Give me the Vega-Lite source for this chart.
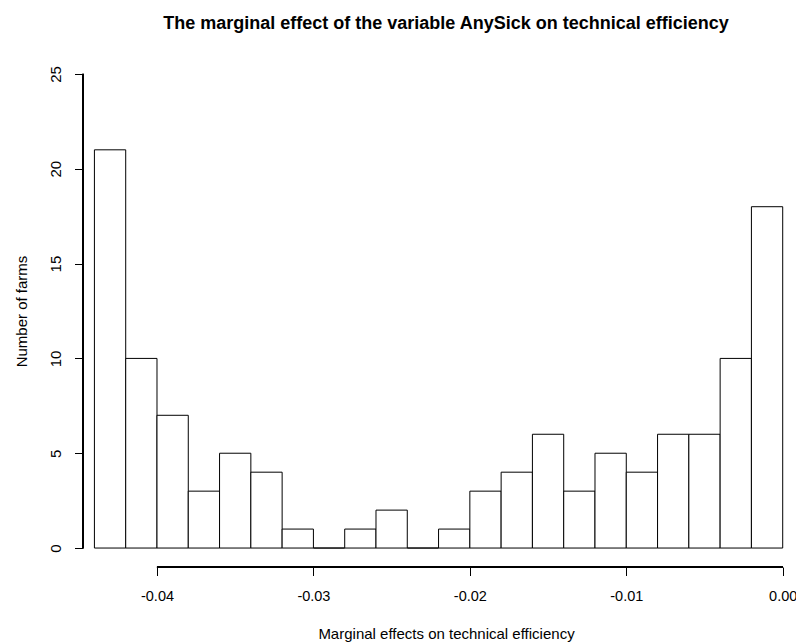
{
  "$schema": "https://vega.github.io/schema/vega-lite/v6.json",
  "width": 713,
  "height": 512,
  "autosize": {"type": "none"},
  "padding": {"left": 83, "top": 55, "right": 0, "bottom": 77},
  "background": "white",
  "title": {
    "text": "The marginal effect of the variable AnySick on technical efficiency",
    "font": "Liberation Sans",
    "fontSize": 18,
    "fontWeight": "bold",
    "color": "black",
    "anchor": "middle",
    "dx": 6.5,
    "baseline": "alphabetic",
    "offset": 8
  },
  "config": {"view": {"stroke": null}, "font": "Liberation Sans"},
  "data": {
    "values": [
      {"bin_start": -0.044, "bin_end": -0.042, "count": 21},
      {"bin_start": -0.042, "bin_end": -0.040, "count": 10},
      {"bin_start": -0.040, "bin_end": -0.038, "count": 7},
      {"bin_start": -0.038, "bin_end": -0.036, "count": 3},
      {"bin_start": -0.036, "bin_end": -0.034, "count": 5},
      {"bin_start": -0.034, "bin_end": -0.032, "count": 4},
      {"bin_start": -0.032, "bin_end": -0.030, "count": 1},
      {"bin_start": -0.030, "bin_end": -0.028, "count": 0},
      {"bin_start": -0.028, "bin_end": -0.026, "count": 1},
      {"bin_start": -0.026, "bin_end": -0.024, "count": 2},
      {"bin_start": -0.024, "bin_end": -0.022, "count": 0},
      {"bin_start": -0.022, "bin_end": -0.020, "count": 1},
      {"bin_start": -0.020, "bin_end": -0.018, "count": 3},
      {"bin_start": -0.018, "bin_end": -0.016, "count": 4},
      {"bin_start": -0.016, "bin_end": -0.014, "count": 6},
      {"bin_start": -0.014, "bin_end": -0.012, "count": 3},
      {"bin_start": -0.012, "bin_end": -0.010, "count": 5},
      {"bin_start": -0.010, "bin_end": -0.008, "count": 4},
      {"bin_start": -0.008, "bin_end": -0.006, "count": 6},
      {"bin_start": -0.006, "bin_end": -0.004, "count": 6},
      {"bin_start": -0.004, "bin_end": -0.002, "count": 10},
      {"bin_start": -0.002, "bin_end": 0.000, "count": 18}
    ]
  },
  "layer": [
    {
      "mark": {"type": "rect", "fill": "white", "stroke": "black", "strokeWidth": 1},
      "encoding": {
        "x": {
          "field": "bin_start",
          "type": "quantitative",
          "scale": {"domain": [-0.04473, 0.00085], "nice": false, "zero": false},
          "axis": {
            "values": [-0.04, -0.03, -0.02, -0.01, 0],
            "labelExpr": "replace(format(datum.value,'.2f'),'\u2212','-')",
            "domain": false,
            "grid": false,
            "ticks": true,
            "tickSize": 8.5,
            "tickColor": "black",
            "tickWidth": 1,
            "labelFont": "Liberation Sans",
            "labelFontSize": 14.5,
            "labelColor": "black",
            "labelBaseline": "alphabetic",
            "labelPadding": 25,
            "labelFlush": false,
            "labelOverlap": false,
            "title": "Marginal effects on technical efficiency",
            "titleFont": "Liberation Sans",
            "titleFontSize": 15,
            "titleFontWeight": "normal",
            "titleColor": "black",
            "titleX": 363,
            "titleY": 71,
            "titleAlign": "center",
            "titleBaseline": "alphabetic"
          }
        },
        "x2": {"field": "bin_end"},
        "y": {
          "field": "count",
          "type": "quantitative",
          "scale": {"domain": [-1, 26], "nice": false, "zero": false},
          "axis": {
            "values": [0, 5, 10, 15, 20, 25],
            "domain": false,
            "grid": false,
            "tickSize": 8.5,
            "tickColor": "black",
            "tickWidth": 1,
            "labelFont": "Liberation Sans",
            "labelFontSize": 15,
            "labelColor": "black",
            "labelAngle": 270,
            "labelAlign": "center",
            "labelBaseline": "alphabetic",
            "labelPadding": 14,
            "labelFlush": false,
            "labelOverlap": false,
            "title": "Number of farms",
            "titleFont": "Liberation Sans",
            "titleFontSize": 15,
            "titleFontWeight": "normal",
            "titleColor": "black",
            "titleAngle": 270,
            "titleX": -57,
            "titleY": 256,
            "titleAlign": "center",
            "titleBaseline": "alphabetic"
          }
        },
        "y2": {"datum": 0}
      }
    },
    {
      "mark": {"type": "rule", "color": "black", "strokeWidth": 1},
      "encoding": {
        "x": {"datum": -0.04},
        "x2": {"datum": 0},
        "y": {"datum": -1}
      }
    },
    {
      "mark": {"type": "rule", "color": "black", "strokeWidth": 1},
      "encoding": {
        "x": {"datum": -0.04473},
        "y": {"datum": 0},
        "y2": {"datum": 25}
      }
    }
  ]
}
